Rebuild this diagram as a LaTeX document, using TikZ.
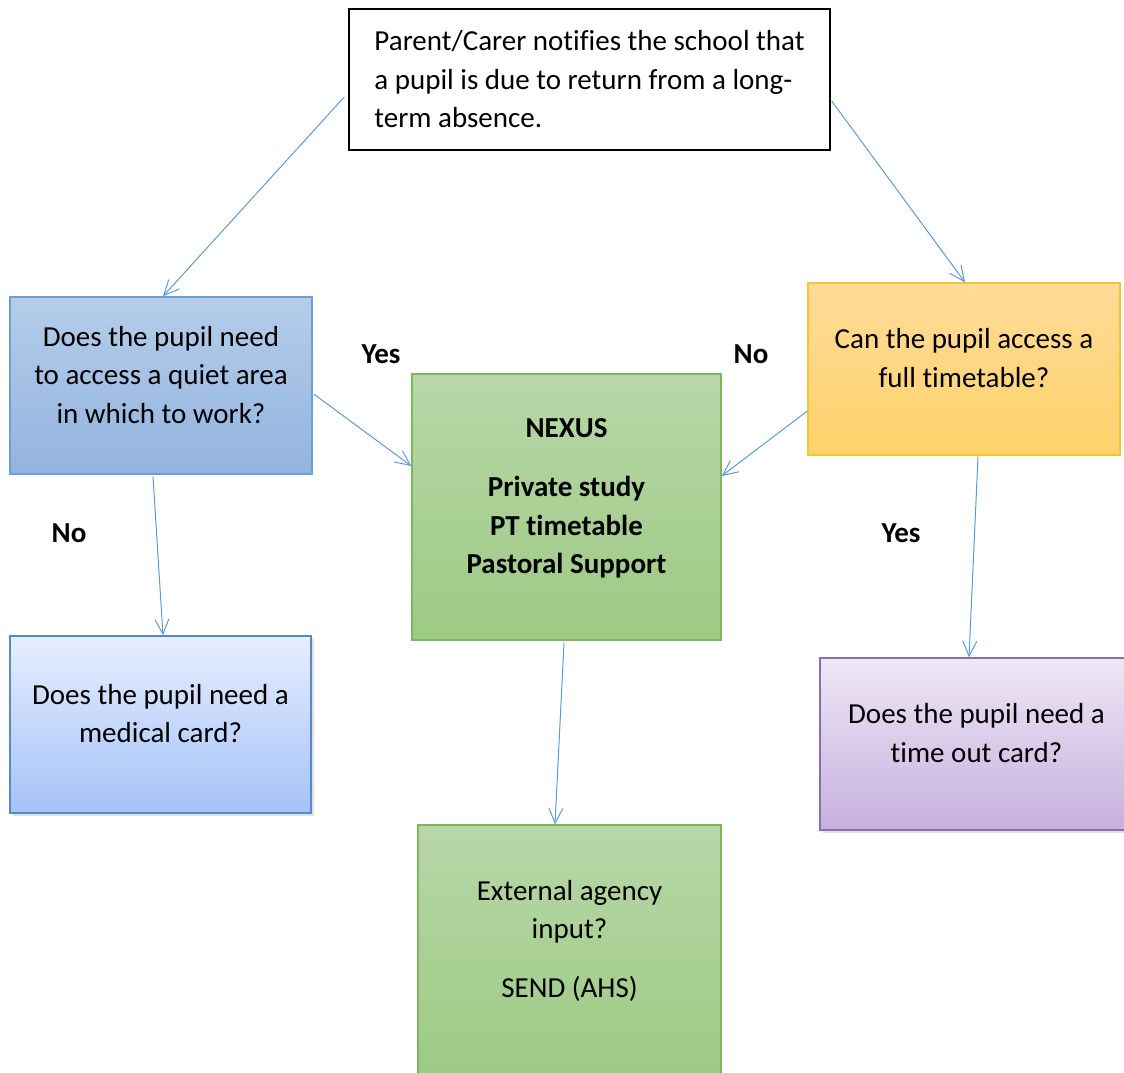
\documentclass[tikz,border=0pt]{standalone}
\usepackage{fontspec}
\setmainfont{Carlito}[Ligatures=NoCommon]
\usetikzlibrary{arrows.meta,calc,shadows}
\definecolor{fcline}{HTML}{5B9BD5}
\definecolor{fcbluetop}{HTML}{B4CDEA}
\definecolor{fcbluebot}{HTML}{93B4DE}
\definecolor{fcblueedge}{HTML}{6D9FD6}
\definecolor{fcorgtop}{HTML}{FFDB98}
\definecolor{fcorgbot}{HTML}{FFD26A}
\definecolor{fcorgedge}{HTML}{F9C230}
\definecolor{fcgrntop}{HTML}{B8D7A8}
\definecolor{fcgrnbot}{HTML}{9DCA84}
\definecolor{fcgrnedge}{HTML}{7EB65C}
\definecolor{fcskytop}{HTML}{E6EEFE}
\definecolor{fcskybot}{HTML}{A4C2F9}
\definecolor{fcskyedge}{HTML}{5A8AC6}
\definecolor{fcpurtop}{HTML}{EEE7F5}
\definecolor{fcpurbot}{HTML}{C6AFDE}
\definecolor{fcpuredge}{HTML}{8A6FAE}

\tikzset{
  fcbox/.style={draw, line width=0.7pt, inner sep=0pt, align=center, text depth=11pt,
    font=\fontsize{14.5}{19.25}\selectfont},
  fcshadow/.style={drop shadow={shadow xshift=1.6pt, shadow yshift=-1.6pt, opacity=0.2, fill=black!60}},
  fcarrow/.style={draw=fcline, line width=0.5pt, -{Straight Barb[length=7.5pt,width=7pt]}},
  fclabel/.style={font=\fontsize{14.5}{16}\selectfont\bfseries},
}

\begin{document}
\begin{tikzpicture}[x=0.5pt, y=-0.5pt]
  \useasboundingbox (0,0) rectangle (1124,1072);
  % boxes
  \node[draw, line width=0.7pt, align=left, minimum width=240.5pt, minimum height=70.5pt,
    font=\fontsize{14.5}{19.25}\selectfont] (notify) at (589.5,79.5)
    {Parent/Carer notifies the school that\\a pupil is due to return from a long-\\term absence.};
  \node[fcbox, draw=fcblueedge, top color=fcbluetop, bottom color=fcbluebot,
    minimum width=151pt, minimum height=88.5pt] (quiet) at (161,385.5)
    {Does the pupil need\\to access a quiet area\\in which to work?};
  \node[fcbox, draw=fcorgedge, top color=fcorgtop, bottom color=fcorgbot,
    minimum width=156pt, minimum height=86pt] (full) at (964,369)
    {Can the pupil access a\\full timetable?};
  \node[fcbox, draw=fcgrnedge, top color=fcgrntop, bottom color=fcgrnbot,
    minimum width=154.5pt, minimum height=133pt, font=\fontsize{14.5}{19.25}\selectfont\bfseries] (nexus) at (566.5,507)
    {NEXUS\\[10.5pt]Private study\\PT timetable\\Pastoral Support};
  \node[fcbox, fcshadow, draw=fcskyedge, top color=fcskytop, bottom color=fcskybot,
    minimum width=150.5pt, minimum height=88.5pt] (medical) at (160.5,724.5)
    {Does the pupil need a\\medical card?};
  \node[fcbox, fcshadow, draw=fcpuredge, top color=fcpurtop, bottom color=fcpurbot,
    minimum width=156.5pt, minimum height=86pt] (timeout) at (976.5,744)
    {Does the pupil need a\\time out card?};
  \node[fcbox, draw=fcgrnedge, top color=fcgrntop, bottom color=fcgrnbot,
    minimum width=151.5pt, minimum height=124.5pt] (agency) at (569.5,949.5)
    {External agency\\input?\\[10pt]SEND (AHS)};

  % labels
  \node[fclabel] (yesleft) at (381,354) {Yes};
  \node[fclabel] (noright) at (751,354) {No};
  \node[fclabel] (noleft) at (69,533) {No};
  \node[fclabel] (yesright) at (901,533) {Yes};

  % arrows
  \draw[fcarrow] ($(notify.west)+(-4,17.5)$) -- ($(quiet.north)+(2,0)$);
  \draw[fcarrow] ($(notify.east)+(1,21.5)$) -- ($(full.north)+(1,0)$);
  \draw[fcarrow] ($(quiet.east)+(1,8.5)$) -- ($(nexus.west)+(0,-41)$);
  \draw[fcarrow] ($(full.west)+(0,42)$) -- ($(nexus.east)+(0,-31)$);
  \draw[fcarrow] ($(quiet.south)+(-8,2)$) -- ($(medical.north)+(2.5,0)$);
  \draw[fcarrow] ($(full.south)+(14,1)$) -- ($(timeout.north)+(-7.5,0)$);
  \draw[fcarrow] ($(nexus.south)+(-2.5,2)$) -- ($(agency.north)+(-14.5,0)$);
\end{tikzpicture}
\end{document}
